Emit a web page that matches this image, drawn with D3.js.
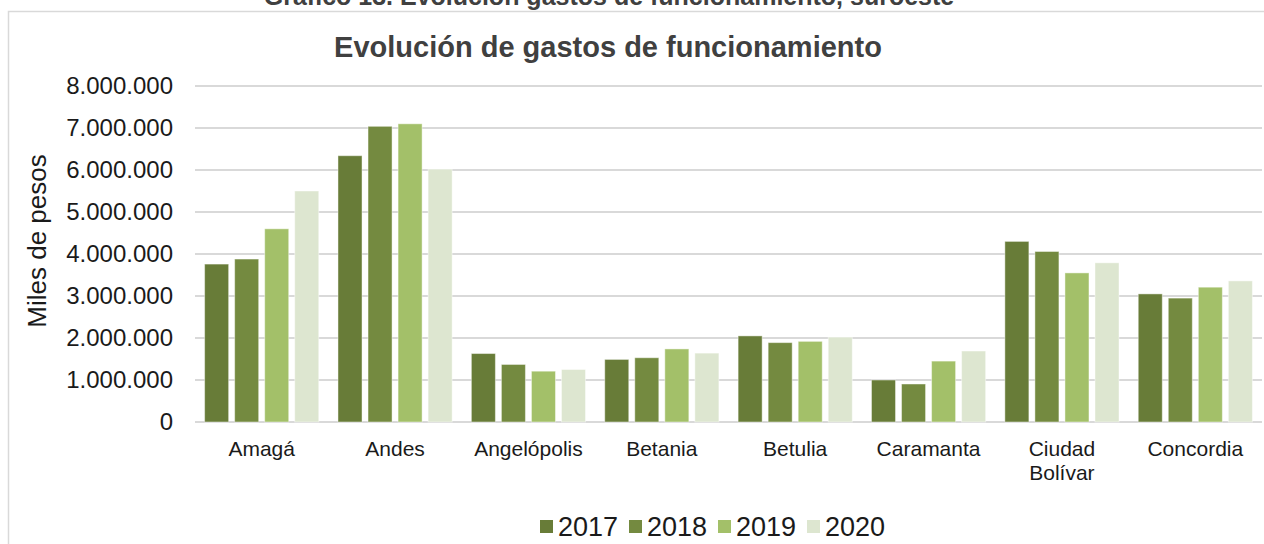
<!DOCTYPE html>
<html>
<head>
<meta charset="utf-8">
<script src="https://cdn.jsdelivr.net/npm/d3@7"></script>
<style>
  body { margin: 0; background: #fff; }
  svg { display: block; font-family: "Liberation Sans", Arial, sans-serif; }
</style>
</head>
<body>
<div id="chart"></div>
<script>
// evolucion de gastos de funcionamiento - grouped bars, one group per municipio

const municipios = ["Amagá", "Andes", "Angelópolis", "Betania", "Betulia", "Caramanta", "Ciudad Bolívar", "Concordia"]
const years = ["2017", "2018", "2019", "2020"]

// miles de pesos
const gastos2017 = [3760000, 6340000, 1630000, 1490000, 2050000, 1000000, 4300000, 3050000]
const gastos2018 = [3880000, 7040000, 1370000, 1530000, 1890000, 905000, 4060000, 2950000]
const gastos2019 = [4600000, 7100000, 1210000, 1740000, 1920000, 1450000, 3550000, 3210000]
const gastos2020 = [5500000, 6020000, 1250000, 1640000, 2020000, 1690000, 3790000, 3360000]

const yTicks = [0, 1000000, 2000000, 3000000, 4000000, 5000000, 6000000, 7000000, 8000000]
const colors = ["#687c38", "#748a40", "#a3c069", "#dde6d0"]

const series = [gastos2017, gastos2018, gastos2019, gastos2020]
const rows = municipios.map((m, i) => ({
  name: m,
  values: years.map((y, j) => ({ year: y, value: series[j][i] }))
}))

const W = 1264, H = 544
const plot = { left: 195, right: 1262, top: 86, bottom: 422 }

const svg = d3.select("#chart").append("svg")
  .attr("width", W).attr("height", H)

// caption above the chart box - the reference only shows its lower edge
svg.append("text")
  .attr("x", 609).attr("y", 5)
  .attr("text-anchor", "middle")
  .style("font-size", "25px").style("font-weight", "bold").style("fill", "#404040")
  .text("Gráfico 13. Evolución gastos de funcionamiento, suroeste")

// chart box border
svg.append("rect")
  .attr("x", 8.5).attr("y", 11.5)
  .attr("width", 1270).attr("height", 560)
  .attr("fill", "none").attr("stroke", "#d9d9d9").attr("stroke-width", 1.5)

// title
svg.append("text")
  .attr("x", 608).attr("y", 57)
  .attr("text-anchor", "middle")
  .style("font-size", "29px").style("font-weight", "bold").style("fill", "#404040")
  .text("Evolución de gastos de funcionamiento")

const y = d3.scaleLinear().domain([0, 8000000]).range([plot.bottom, plot.top])

const x0 = d3.scaleBand().domain(municipios).range([plot.left, plot.right]).padding(0)
const x1 = d3.scaleBand().domain(years).range([0, x0.bandwidth()])
  .paddingInner(0.2).paddingOuter(0.32)

// gridlines
svg.append("g")
  .selectAll("line")
  .data(yTicks)
  .join("line")
  .attr("x1", plot.left).attr("x2", plot.right)
  .attr("y1", d => y(d)).attr("y2", d => y(d))
  .attr("stroke", "#d9d9d9").attr("stroke-width", 2)

// y axis labels (dots as thousands separator)
const fmt = d3.formatLocale({ decimal: ",", thousands: ".", grouping: [3], currency: ["$", ""] }).format(",.0f")
const yAxis = svg.append("g")
  .attr("transform", `translate(${plot.left},0)`)
  .call(d3.axisLeft(y).tickValues(yTicks).tickFormat(fmt).tickSize(0).tickPadding(22))
yAxis.select(".domain").remove()
yAxis.selectAll("text")
  .style("font-family", "'Liberation Sans', Arial, sans-serif")
  .style("font-size", "24px").style("fill", "#1a1a1a")

// y axis title
svg.append("text")
  .attr("transform", "translate(46,241) rotate(-90)")
  .attr("text-anchor", "middle")
  .style("font-size", "26px").style("fill", "#1a1a1a")
  .text("Miles de pesos")

// bars
const groups = svg.append("g")
  .selectAll("g")
  .data(rows)
  .join("g")
  .attr("transform", d => `translate(${x0(d.name)},0)`)

groups.selectAll("rect")
  .data(d => d.values)
  .join("rect")
  .attr("x", d => x1(d.year))
  .attr("width", x1.bandwidth())
  .attr("y", d => y(d.value))
  .attr("height", d => y(0) - y(d.value))
  .attr("fill", (d, i) => colors[i])
  .attr("stroke", "rgba(255,255,255,0.45)").attr("stroke-width", 1)

// category labels, wrap "Ciudad Bolívar" on two lines
const catG = svg.append("g")
catG.selectAll("text")
  .data(municipios)
  .join("text")
  .attr("x", d => x0(d) + x0.bandwidth() / 2)
  .attr("y", 456)
  .attr("text-anchor", "middle")
  .style("font-size", "21px").style("fill", "#1a1a1a")
  .each(function(d) {
    const words = d === "Ciudad Bolívar" ? d.split(" ") : [d]
    const t = d3.select(this)
    words.forEach((w, i) => {
      t.append("tspan")
        .attr("x", x0(d) + x0.bandwidth() / 2)
        .attr("dy", i === 0 ? 0 : 24)
        .text(w)
    })
  })

// legend along the bottom
const legend = svg.append("g").attr("transform", "translate(540,520)")
years.forEach((yr, i) => {
  const lx = i * 89
  legend.append("rect")
    .attr("x", lx).attr("y", 0)
    .attr("width", 13).attr("height", 13)
    .attr("fill", colors[i])
  legend.append("text")
    .attr("x", lx + 18).attr("y", 16)
    .style("font-size", "27px").style("fill", "#1a1a1a")
    .text(yr)
})
</script>
</body>
</html>
